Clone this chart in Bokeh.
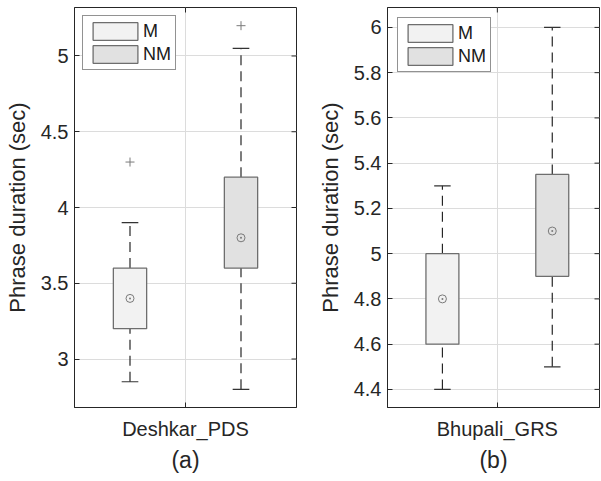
import math
from bokeh.plotting import figure
from bokeh.layouts import row
from bokeh.models import FixedTicker, Range1d, Legend, LegendItem
from bokeh.embed import file_html
from bokeh.resources import INLINE

# ---------------- data ----------------
groups = ["M", "NM"]
positions = [1, 2]

# panel (a) Deshkar_PDS
a_lo_whisk = [2.85, 2.80]
a_q1 = [3.2, 3.6]
a_med = [3.4, 3.8]
a_q3 = [3.6, 4.2]
a_hi_whisk = [3.9, 5.05]
a_outliers = [4.3, 5.2]
a_out_pos = [1, 2]
a_yticks = [3, 3.5, 4, 4.5, 5]
a_yticklabels = ["3", "3.5", "4", "4.5", "5"]
a_category = "Deshkar_PDS"
a_caption = "(a)"

# panel (b) Bhupali_GRS
b_lo_whisk = [4.4, 4.5]
b_q1 = [4.6, 4.9]
b_med = [4.8, 5.1]
b_q3 = [5.0, 5.35]
b_hi_whisk = [5.3, 6.0]
b_outliers = []
b_out_pos = []
b_yticks = [4.4, 4.6, 4.8, 5.0, 5.2, 5.4, 5.6, 5.8, 6.0]
b_yticklabels = ["4.4", "4.6", "4.8", "5", "5.2", "5.4", "5.6", "5.8", "6"]
b_category = "Bhupali_GRS"
b_caption = "(b)"

xtick_pos = [1.5]

fills = ["#f2f2f2", "#e1e1e1"]
TXT = "#262626"
FONT = "Liberation Sans"


def make_panel(lo, q1, med, q3, hi, outl, outp, yticks, ylabels, cat, cap,
               yrange, xrange, width, height, left, right, top, bottom, lmargin):
    p = figure(width=width, height=height, output_backend="svg",
               toolbar_location=None, x_range=Range1d(*xrange),
               y_range=Range1d(*yrange),
               min_border_left=left, min_border_right=right,
               min_border_top=top, min_border_bottom=bottom)
    p.background_fill_color = "white"
    p.border_fill_color = "white"
    p.outline_line_color = TXT
    p.outline_line_width = 1

    # axes
    p.yaxis.ticker = FixedTicker(ticks=yticks)
    p.yaxis.major_label_overrides = {t: l for t, l in zip(yticks, ylabels)}
    p.yaxis.axis_label = "Phrase duration (sec)"
    p.xaxis.ticker = FixedTicker(ticks=xtick_pos)
    p.xaxis.major_label_overrides = {xtick_pos[0]: cat}
    p.xaxis.axis_label = cap
    for ax in [p.xaxis[0], p.yaxis[0]]:
        ax.major_tick_in = 5
        ax.major_tick_out = 0
        ax.minor_tick_line_color = None
        ax.axis_line_color = TXT
        ax.major_tick_line_color = TXT
        ax.major_label_text_color = TXT
        ax.major_label_text_font = FONT
        ax.major_label_text_font_size = "20px"
        ax.axis_label_text_color = TXT
        ax.axis_label_text_font = FONT
        ax.axis_label_text_font_style = "normal"
    p.yaxis.major_label_standoff = 6
    p.yaxis.axis_label_standoff = 8
    p.yaxis.axis_label_text_font_size = "22px"
    p.xaxis.major_label_standoff = 10
    p.xaxis.axis_label_standoff = 4
    p.xaxis.axis_label_text_font_size = "23px"

    p.grid.grid_line_color = "#dcdcdc"
    p.grid.grid_line_width = 1

    # inward tick marks on the right and top edges (clipped to the frame)
    p.scatter(x=[xrange[1]] * len(yticks), y=yticks, marker="dash", size=10,
              line_color=TXT, line_width=1)
    p.scatter(x=xtick_pos, y=[yrange[1]] * len(xtick_pos), marker="dash",
              size=10, angle=math.pi / 2, line_color=TXT, line_width=1)

    bw = 0.3
    cw = 0.15
    # whiskers
    p.segment(x0=positions, y0=q3, x1=positions, y1=hi, line_color=TXT,
              line_width=1.2, line_dash="10 6")
    p.segment(x0=positions, y0=lo, x1=positions, y1=q1, line_color=TXT,
              line_width=1.2, line_dash="10 6")
    # caps
    p.segment(x0=[x - cw / 2 for x in positions], y0=hi,
              x1=[x + cw / 2 for x in positions], y1=hi, line_color="#333333",
              line_width=1.2)
    p.segment(x0=[x - cw / 2 for x in positions], y0=lo,
              x1=[x + cw / 2 for x in positions], y1=lo, line_color="#333333",
              line_width=1.2)
    # boxes
    items = []
    for i, g in enumerate(groups):
        r = p.quad(left=[positions[i] - bw / 2], right=[positions[i] + bw / 2],
                   bottom=[q1[i]], top=[q3[i]], fill_color=fills[i],
                   line_color="#6e6e6e", line_width=1.3)
        items.append(LegendItem(label=g, renderers=[r]))
    # medians
    p.scatter(x=positions, y=med, marker="circle_dot", size=8,
              fill_color=None, line_color="#7a7a7a", line_width=1)
    # outliers
    if outl:
        p.scatter(x=outp, y=outl, marker="cross", size=9,
                  line_color="#7a7a7a", line_width=1)

    leg = Legend(items=items, location="top_left")
    leg.margin = lmargin
    leg.padding = 4
    leg.spacing = 1
    leg.glyph_width = 56
    leg.glyph_height = 22
    leg.label_standoff = 0
    leg.label_text_font = FONT
    leg.label_text_font_size = "18px"
    leg.label_text_color = "#1a1a1a"
    leg.label_height = 22
    leg.border_line_color = TXT
    leg.border_line_width = 1
    leg.background_fill_alpha = 1
    p.add_layout(leg, "center")
    return p


pa = make_panel(a_lo_whisk, a_q1, a_med, a_q3, a_hi_whisk, a_outliers,
                a_out_pos, a_yticks, a_yticklabels, a_category, a_caption,
                (2.68, 5.32), (0.5, 2.5), 300, 481, 74, 4, 3, 74, 8)
pb = make_panel(b_lo_whisk, b_q1, b_med, b_q3, b_hi_whisk, b_outliers,
                b_out_pos, b_yticks, b_yticklabels, b_category, b_caption,
                (4.32, 6.088), (0.5, 2.43), 301, 481, 87, 2, 7, 72, 10)

layout = row(pa, pb)
open("out.html", "w").write(file_html(layout, INLINE))
